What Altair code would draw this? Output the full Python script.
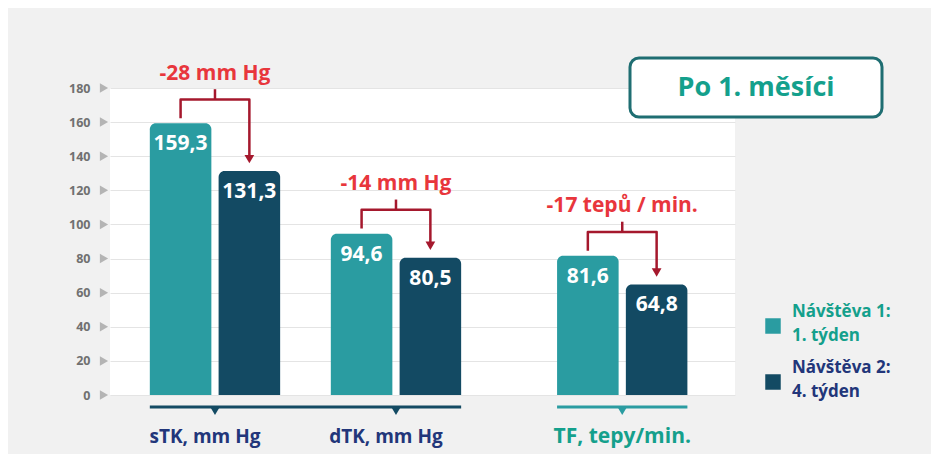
import altair as alt
import pandas as pd

# ---- data ----
groups = ["sTK, mm Hg", "dTK, mm Hg", "TF, tepy/min."]
visit1 = [159.3, 94.6, 81.6]
visit2 = [131.3, 80.5, 64.8]
diff_labels = ["-28 mm Hg", "-14 mm Hg", "-17 tepů / min."]
series = ["Návštěva 1:\n1. týden", "Návštěva 2:\n4. týden"]
y_ticks = [0, 20, 40, 60, 80, 100, 120, 140, 160, 180]
title_text = "Po 1. měsíci"

# ---- styles / layout ----
TEAL = "#2a9ca1"
NAVY = "#134a63"
TEAL_TXT = "#14a08c"
NAVY_TXT = "#22367a"
RED_TXT = "#e8363c"
RED_LINE = "#a5182d"
FONT = "Open Sans"
group_pos = [0.0, 1.0, 2.25]
OFF = 0.19
HALF = 0.17

xs = alt.Scale(domain=[-0.58, 2.873], nice=False, zero=False)
ys = alt.Scale(domain=[0, 180], nice=False, zero=True)
y_axis = alt.Axis(
    values=y_ticks, grid=True, gridColor="#e4e4e4", gridWidth=1, domain=False,
    ticks=False, labelPadding=20, labelColor="#707070", labelFont=FONT,
    labelFontWeight="bold", labelFontSize=12.5, labelOverlap=False, title=None)


def X(f):
    return alt.X(f, scale=xs, axis=None)


def Y(f):
    return alt.Y(f, scale=ys, axis=y_axis)


rows = []
for g, p, a, b in zip(groups, group_pos, visit1, visit2):
    for s, v, o in ((series[0], a, -OFF), (series[1], b, OFF)):
        rows.append({"g": g, "series": s, "value": v,
                     "x0": p + o - HALF, "x1": p + o + HALF, "xc": p + o,
                     "lab": f"{v:.1f}".replace(".", ",")})
bars_df = pd.DataFrame(rows)

bars = alt.Chart(bars_df).mark_bar(cornerRadiusTopLeft=6, cornerRadiusTopRight=6).encode(
    x=X("x0:Q"),
    x2="x1:Q",
    y=Y("value:Q"),
    y2=alt.datum(0),
    color=alt.Color("series:N", scale=alt.Scale(domain=series, range=[TEAL, NAVY]), legend=None),
)

bar_text = alt.Chart(bars_df).mark_text(
    font=FONT, fontWeight="bold", fontSize=21, color="white", baseline="middle", dy=21
).encode(x=X("xc:Q"), y=Y("value:Q"), text="lab:N")

# y-axis triangle markers
tick_df = pd.DataFrame({"t": y_ticks})
tick_marks = alt.Chart(tick_df).mark_point(
    shape="triangle-right", filled=True, size=90, color="#b4b4b4", opacity=1
).encode(x=alt.value(-6), y=Y("t:Q"))

# brackets
pts, stems, labs = [], [], []
for i, (g, p, a, b, d) in enumerate(zip(groups, group_pos, visit1, visit2, diff_labels)):
    h = a + 14
    c1, c2 = p - OFF, p + OFF
    for k, (xx, yy) in enumerate([(c1, a + 3), (c1, h), (c2, h), (c2, b + 8)]):
        pts.append({"g": g, "o": k, "x": xx, "y": yy})
    stems.append({"g": g, "x": p, "y": h, "y2": h + 6, "ax": c2, "ay": b + 7})
    labs.append({"g": g, "x": p, "y": h + 15, "lab": d})
pts_df = pd.DataFrame(pts)
stem_df = pd.DataFrame(stems)
lab_df = pd.DataFrame(labs)

bracket = alt.Chart(pts_df).mark_line(color=RED_LINE, strokeWidth=2.5, strokeJoin="round").encode(
    x=X("x:Q"), y=Y("y:Q"), detail="g:N", order="o:Q")
stem = alt.Chart(stem_df).mark_rule(color=RED_LINE, strokeWidth=2.5).encode(
    x=X("x:Q"), y=Y("y:Q"), y2="y2:Q")
arrow = alt.Chart(stem_df).mark_point(shape="triangle-down", filled=True, size=95,
                                      color=RED_LINE, opacity=1).encode(
    x=X("ax:Q"), y=Y("ay:Q"))
diff_text = alt.Chart(lab_df).mark_text(
    font=FONT, fontWeight="bold", fontSize=21, color=RED_TXT, baseline="middle"
).encode(x=X("x:Q"), y=Y("y:Q"), text="lab:N")

# bottom category axis
AX_Y = 319
seg_df = pd.DataFrame([
    {"a": group_pos[0] - OFF - HALF, "b": group_pos[1] + OFF + HALF, "c": NAVY},
    {"a": group_pos[2] - OFF - HALF, "b": group_pos[2] + OFF + HALF, "c": TEAL},
])
segs = alt.Chart(seg_df).mark_rule(strokeWidth=3).encode(
    x=X("a:Q"), x2="b:Q", y=alt.value(AX_Y),
    color=alt.Color("c:N", scale=None))
cat_df = pd.DataFrame({"g": groups, "x": group_pos,
                       "c": [NAVY, NAVY, TEAL], "tc": [NAVY_TXT, NAVY_TXT, TEAL_TXT]})
cat_tri = alt.Chart(cat_df).mark_point(shape="triangle-down", filled=True, size=90, opacity=1).encode(
    x=X("x:Q"), y=alt.value(AX_Y + 4), color=alt.Color("c:N", scale=None))
cat_text1 = alt.Chart(cat_df.iloc[:2]).mark_text(
    font=FONT, fontWeight="bold", fontSize=19, baseline="middle", dx=-10
).encode(x=X("x:Q"), y=alt.value(349), text="g:N", color=alt.Color("tc:N", scale=None))
cat_text2 = alt.Chart(cat_df.iloc[2:]).mark_text(
    font=FONT, fontWeight="bold", fontSize=21, baseline="middle"
).encode(x=X("x:Q"), y=alt.value(349), text="g:N", color=alt.Color("tc:N", scale=None))

# title box
tdf = pd.DataFrame({"t": [title_text]})
tbox = alt.Chart(tdf).mark_rect(cornerRadius=9, fill="white", stroke="#1f6e72", strokeWidth=3).encode(
    x=alt.value(520), x2=alt.value(772), y=alt.value(-30), y2=alt.value(29))
ttext = alt.Chart(tdf).mark_text(font=FONT, fontWeight="bold", fontSize=27, color=TEAL_TXT,
                                 baseline="middle").encode(
    x=alt.value(646), y=alt.value(0), text="t:N")

# manual legend
legend_layers = []
for i, (s, col, tcol) in enumerate(zip(series, [TEAL, NAVY], [TEAL_TXT, NAVY_TXT])):
    lines = s.split("\n")
    ldf = pd.DataFrame({"s": [s], "l1": [lines[0]], "l2": [lines[1]]})
    y0 = 224 + 56 * i
    legend_layers.append(alt.Chart(ldf).mark_square(size=240, color=col, opacity=1).encode(
        x=alt.value(663), y=alt.value(y0 + 14)))
    legend_layers.append(alt.Chart(ldf).mark_text(font=FONT, fontWeight="bold", fontSize=17,
                                                  color=tcol, align="left", baseline="middle").encode(
        x=alt.value(682), y=alt.value(y0), text="l1:N"))
    legend_layers.append(alt.Chart(ldf).mark_text(font=FONT, fontWeight="bold", fontSize=17,
                                                  color=tcol, align="left", baseline="middle").encode(
        x=alt.value(682), y=alt.value(y0 + 24), text="l2:N"))

chart = alt.layer(
    bars, tick_marks, bar_text, bracket, stem, arrow, diff_text,
    segs, cat_tri, cat_text1, cat_text2, tbox, ttext, *legend_layers
).properties(
    width=625, height=307,
    autosize=alt.AutoSizeParams(type="none"),
    padding={"left": 102, "top": 80, "right": 196, "bottom": 59},
    background="#f1f1f1",
).configure_view(fill="white", strokeWidth=0).configure_axisY(labelOverlap=False)

chart.save("out.html", embed_options={"renderer": "svg", "actions": False})
